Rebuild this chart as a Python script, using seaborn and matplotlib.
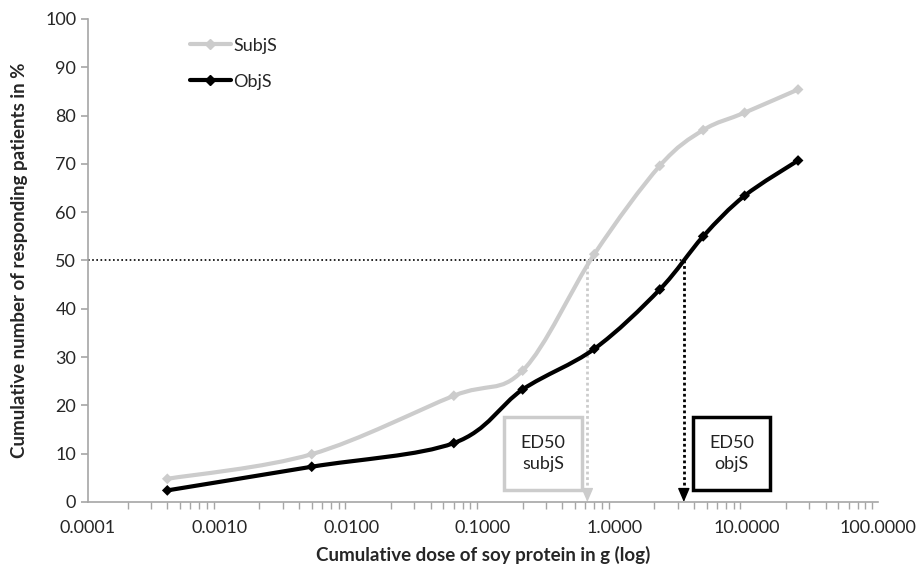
import numpy as np
import pandas as pd
import matplotlib
matplotlib.use("Agg")
import matplotlib.pyplot as plt
from matplotlib.path import Path
from matplotlib.patches import PathPatch, Rectangle
from matplotlib.lines import Line2D
from matplotlib.ticker import FixedLocator, LogLocator, NullFormatter
import seaborn as sns

# cumulative dose (g) and responders (%)
dose = [0.0004, 0.005, 0.06, 0.2, 0.7, 2.2, 4.7, 9.7, 24.7]
subj = [4.8, 9.9, 22.0, 27.2, 51.3, 69.6, 77.0, 80.6, 85.4]
obj = [2.4, 7.3, 12.2, 23.3, 31.7, 44.0, 55.0, 63.4, 70.7]
ed50_subj = 0.62
ed50_obj = 3.35
tick_vals = [0.0001, 0.001, 0.01, 0.1, 1, 10, 100]
tick_labels = ["0.0001", "0.0010", "0.0100", "0.1000", "1.0000", "10.0000", "100.0000"]

grey = "#cccccc"
df = pd.DataFrame({"dose": dose * 2, "pct": subj + obj,
                   "series": ["SubjS"] * len(dose) + ["ObjS"] * len(dose)})

sns.set_theme(style="white")
plt.rcParams["font.family"] = ["Lato", "DejaVu Sans"]

fig = plt.figure(figsize=(9.19, 5.70), dpi=100)
ax = fig.add_axes([0.0958, 0.1193, 0.8596, 0.8474])
ax.set_xscale("log")
ax.set_xlim(0.0001, 100)
ax.set_ylim(0, 100)


def smooth_path(xs, ys):
    # Excel-style smoothed line: cubic Bezier segments in log-x space
    lx = np.log10(xs)
    y = np.asarray(ys, float)
    n = len(lx)
    verts = [(xs[0], y[0])]
    codes = [Path.MOVETO]
    for i in range(n - 1):
        p0 = (lx[i - 1], y[i - 1]) if i > 0 else (lx[i], y[i])
        p1 = (lx[i], y[i])
        p2 = (lx[i + 1], y[i + 1])
        p3 = (lx[i + 2], y[i + 2]) if i + 2 < n else p2
        c1 = (p1[0] + (p2[0] - p0[0]) / 6, p1[1] + (p2[1] - p0[1]) / 6)
        c2 = (p2[0] - (p3[0] - p1[0]) / 6, p2[1] - (p3[1] - p1[1]) / 6)
        for c in (c1, c2, p2):
            verts.append((10 ** c[0], c[1]))
            codes.append(Path.CURVE4)
    return Path(verts, codes)


ax.add_patch(PathPatch(smooth_path(dose, subj), fill=False, edgecolor=grey,
                       lw=3, capstyle="round", zorder=3))
ax.add_patch(PathPatch(smooth_path(dose, obj), fill=False, edgecolor="black",
                       lw=3, capstyle="round", zorder=4))

sns.scatterplot(data=df, x="dose", y="pct", hue="series",
                palette={"SubjS": grey, "ObjS": "black"}, marker="D", s=30,
                edgecolor=None, linewidth=0, legend=False, ax=ax, zorder=5)

# ED50 guide lines
ax.plot([0.0001, ed50_obj], [50, 50], ls=(0, (1, 1.5)), color="black", lw=1.2, zorder=2)
for xv, col in [(ed50_subj, grey), (ed50_obj, "black")]:
    ax.plot([xv, xv], [50, 2], ls=(0, (1, 1)), color=col, lw=2, zorder=2)
    ax.annotate("", xy=(xv, 0), xytext=(xv, 2.5),
                arrowprops=dict(arrowstyle="-|>,head_width=0.3,head_length=0.7",
                                color=col, lw=1, shrinkA=0, shrinkB=0), zorder=2)

# ED50 boxes
for xc, label, col in [(0.576, "ED50\nsubjS", grey), (0.8146, "ED50\nobjS", "black")]:
    ax.add_patch(Rectangle((xc - 0.0494, 0.0245), 0.0987, 0.151, transform=ax.transAxes,
                           fc="white", ec=col, lw=2.5, zorder=6))
    ax.text(xc, 0.10, label, transform=ax.transAxes, ha="center", va="center",
            fontsize=13, color="#222222", linespacing=1.35, zorder=7)

handles = [Line2D([], [], color=grey, lw=3, marker="D", ms=5),
           Line2D([], [], color="black", lw=3, marker="D", ms=5)]
ax.legend(handles, ["SubjS", "ObjS"], loc="upper left", bbox_to_anchor=(0.108, 0.995),
          frameon=False, fontsize=13, handlelength=2.3, handletextpad=0.1,
          labelspacing=1.1)

# axes styling
for s in ["top", "right"]:
    ax.spines[s].set_visible(False)
for s in ["left", "bottom"]:
    ax.spines[s].set_color("#a6a6a6")
    ax.spines[s].set_linewidth(1.2)
ax.xaxis.set_major_locator(FixedLocator(tick_vals))
ax.set_xticklabels(tick_labels)
ax.xaxis.set_minor_locator(LogLocator(base=10, subs=np.arange(2, 10)))
ax.xaxis.set_minor_formatter(NullFormatter())
ax.set_yticks(range(0, 101, 10))
ax.tick_params(axis="x", which="major", direction="inout", length=10, width=1.2,
               color="#a6a6a6", labelsize=13, pad=8)
ax.tick_params(axis="x", which="minor", direction="out", length=5, width=1,
               color="#a6a6a6", bottom=True)
ax.tick_params(axis="y", direction="out", length=5, width=1.2, color="#a6a6a6",
               labelsize=13, left=True)

ax.set_xlabel("Cumulative dose of soy protein in g (log)", fontsize=13.5,
              fontweight="bold", labelpad=7)
ax.set_ylabel("Cumulative number of responding patients in %", fontsize=13.5,
              fontweight="bold", labelpad=12)

fig.savefig("out.png", dpi=100)
